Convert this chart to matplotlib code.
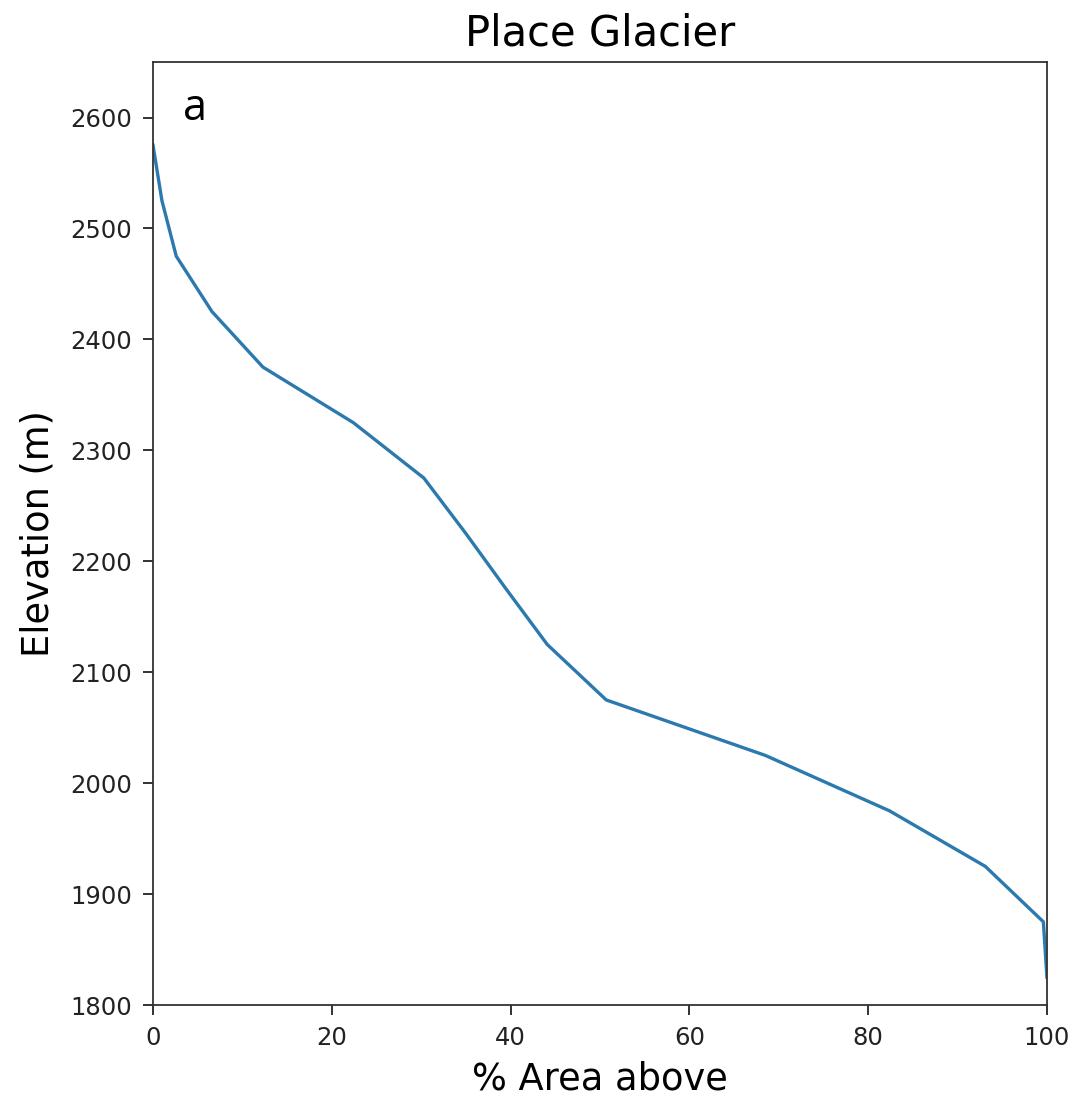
import matplotlib
matplotlib.use('Agg')
import matplotlib.pyplot as plt

# Hypsometry of Place Glacier: % of glacier area above each elevation band
area_above = [0.0, 1.0, 2.6, 6.6, 12.3, 22.4, 30.3, 35.0, 39.5, 44.1, 50.7,
              68.5, 82.4, 93.1, 99.6, 100.0]
elevation = [2575, 2525, 2475, 2425, 2375, 2325, 2275, 2225, 2175, 2125, 2075,
             2025, 1975, 1925, 1875, 1825]

x_ticks = [0, 20, 40, 60, 80, 100]
y_ticks = [1800, 1900, 2000, 2100, 2200, 2300, 2400, 2500, 2600]

fig = plt.figure(figsize=(10.79, 10.96), dpi=100)
ax = fig.add_axes([0.1418, 0.083, 0.8285, 0.8604])

ax.plot(area_above, elevation, color='#2b79ae', linewidth=2.4)

ax.set_xlim(0, 100)
ax.set_ylim(1800, 2650)
ax.set_xticks(x_ticks)
ax.set_yticks(y_ticks)
ax.tick_params(labelsize=17.5, colors='#222222', length=7, width=1.3, pad=8)
for s in ax.spines.values():
    s.set_color('#333333')
    s.set_linewidth(1.3)

ax.set_title('Place Glacier', fontsize=30, pad=12)
ax.set_xlabel('% Area above', fontsize=26.5, labelpad=8)
ax.set_ylabel('Elevation (m)', fontsize=26.5, labelpad=10)

ax.text(0.033, 0.95, 'a', transform=ax.transAxes, fontsize=31,
        family='Open Sans', va='center', ha='left')

fig.savefig('out.png', dpi=100)
